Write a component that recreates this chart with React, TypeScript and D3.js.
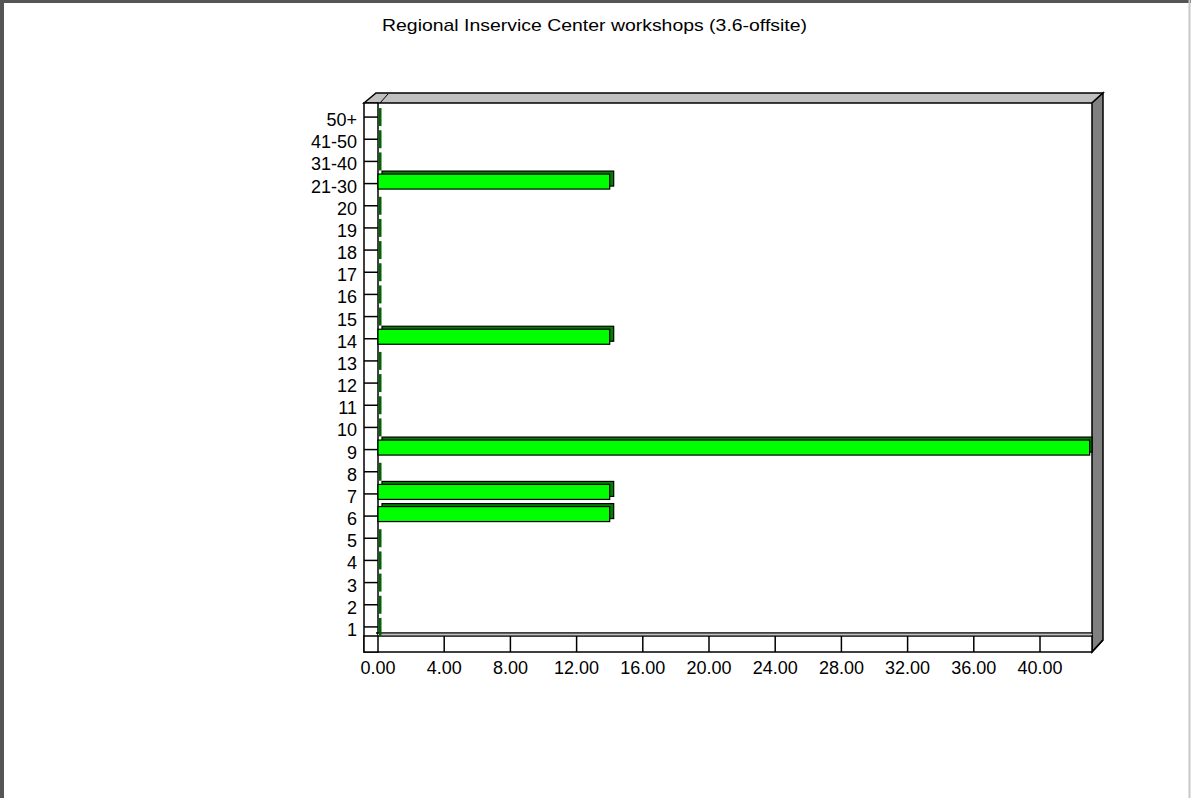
import React from "react";
import * as d3 from "d3";

const TITLE = "Regional Inservice Center workshops (3.6-offsite)";
const categories = ["1","2","3","4","5","6","7","8","9","10","11","12","13","14","15","16","17","18","19","20","21-30","31-40","41-50","50+"];
const values = [0,0,0,0,0,14,14,0,43,0,0,0,0,14,0,0,0,0,0,0,14,0,0,0];
const xTicks = [0,4,8,12,16,20,24,28,32,36,40];

export default function App() {
  const W = 1191, H = 798;
  const left = 378, right = 1092, top = 103, bottom = 633;
  const dx = 11, dy = 10;
  const x = d3.scaleLinear().domain([0, 40]).range([left, 1040]);
  const y = d3.scaleBand<string>().domain(categories).range([638, 106]);
  const bw = y.bandwidth();
  const cy = (c: string) => (y(c) as number) + bw / 2;
  const font = "'Liberation Sans', Arial, sans-serif";
  const barH = 15;

  return (
    <div style={{ position: "absolute", left: 0, top: 0 }}>
      <svg width={W} height={H} style={{ display: "block", background: "#fff" }}>
        {/* page border */}
        <line x1={0} y1={1.5} x2={W} y2={1.5} stroke="#555" strokeWidth={3} />
        <line x1={2} y1={0} x2={2} y2={H} stroke="#555" strokeWidth={4} />
        <line x1={1189.5} y1={0} x2={1189.5} y2={H} stroke="#c8c8c8" strokeWidth={2} />

        <text x={382} y={31} textLength={425} lengthAdjust="spacingAndGlyphs" fontFamily={font} fontSize={17} fill="#000">{TITLE}</text>

        {/* top face */}
        <polygon points={`${left - 14},${top} ${left - 2},${top - dy} ${right + dx},${top - dy} ${right},${top}`} fill="#c0c0c0" stroke="#000" strokeWidth={1.5} />
        <line x1={left + 2} y1={top} x2={left + 10} y2={top - dy + 1} stroke="#000" strokeWidth={1} />
        {/* right face */}
        <polygon points={`${right},${top} ${right + dx},${top - dy} ${right + dx},${bottom + 7} ${right},${bottom + 19}`} fill="#808080" stroke="#000" strokeWidth={1.5} />

        {/* y axis strip */}
        <rect x={left - 14} y={top} width={14} height={bottom + 19 - top} fill="#fff" stroke="#000" strokeWidth={1.5} />
        {categories.map((c) => (
          <line key={"yt" + c} x1={left - 14} x2={left} y1={cy(c)} y2={cy(c)} stroke="#000" strokeWidth={1.5} />
        ))}
        {categories.map((c) => (
          <text key={"yl" + c} x={357} y={cy(c) + 9} textAnchor="end" fontFamily={font} fontSize={18} fill="#000">{c}</text>
        ))}

        {/* x axis strip */}
        <rect x={left - 14} y={bottom + 3} width={right - left + 14} height={16} fill="#fff" stroke="#000" strokeWidth={1.5} />
        <line x1={left - 2} x2={right} y1={bottom} y2={bottom} stroke="#000" strokeWidth={1.5} />
        <line x1={left} x2={right} y1={bottom + 1.5} y2={bottom + 1.5} stroke="#c0c0c0" strokeWidth={1.5} />
        {xTicks.map((t) => (
          <line key={"xt" + t} x1={x(t)} x2={x(t)} y1={bottom + 3} y2={bottom + 19} stroke="#000" strokeWidth={1.5} />
        ))}
        {xTicks.map((t) => (
          <text key={"xl" + t} x={x(t)} y={674} textAnchor="middle" fontFamily={font} fontSize={18} fill="#000">{t.toFixed(2)}</text>
        ))}
        <line x1={right} y1={bottom + 19} x2={right + dx} y2={bottom + 7} stroke="#000" strokeWidth={1.5} />

        {/* bars */}
        {categories.map((c, i) => {
          const v = values[i];
          const yc = cy(c) - 2;
          if (v === 0) {
            return <rect key={"z" + c} x={left + 1} y={cy(c) - 9} width={2.5} height={18} fill="#006400" />;
          }
          const xe = Math.min(x(v), right - 1);
          return (
            <g key={"b" + c}>
              <rect x={left + 4} y={yc - barH / 2 - 3} width={Math.min(xe - left, right - left - 4)} height={barH} fill="#008000" stroke="#000" strokeWidth={1.2} />
              <rect x={left} y={yc - barH / 2} width={xe - left} height={barH} fill="#00ff00" stroke="#000" strokeWidth={1.2} />
            </g>
          );
        })}
      </svg>
    </div>
  );
}
